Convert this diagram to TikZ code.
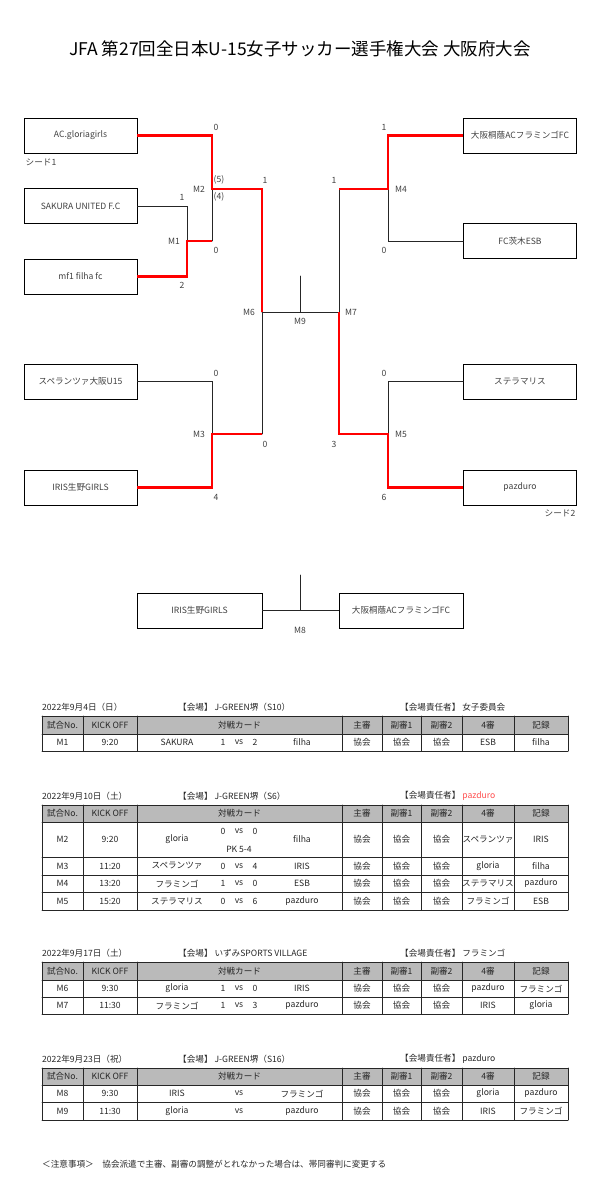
\documentclass[tikz,border=0pt]{standalone}
\usepackage{fontspec}
\setmainfont{Noto Sans CJK JP}
\usepackage{tikz}
\usepackage{xcolor}
\definecolor{alert}{HTML}{FF4D4D}

\begin{document}
\begin{tikzpicture}[x=1pt,y=-1pt,line cap=round,
  font=\fontsize{8.6}{10}\selectfont,
  team/.style={draw=black,line width=0.9pt,minimum width=113pt,minimum height=35pt,inner sep=0pt,text=black!75},
  lbl/.style={inner sep=0pt,text=black!75},
  win/.style={red,line width=2.8pt,line cap=butt},
  lose/.style={black!85,line width=0.9pt},
  cell/.style={inner sep=0pt,text=black!85},
  rule/.style={black!85,line width=0.9pt},
  hdr/.style={fill=black!27}]
\useasboundingbox (0,0) rectangle (600,1198);
\node[font=\fontsize{17.5}{20}\selectfont] (title) at (300,49) {JFA 第27回全日本U-15女子サッカー選手権大会 大阪府大会};
% teams
\node[team] (gloria) at (80.5,135.5) {AC.gloriagirls};
\node[team] (sakura) at (80.5,206) {SAKURA UNITED F.C};
\node[team] (filha) at (80.5,276.5) {mf1 filha fc};
\node[team] (speranza) at (80.5,381.5) {スペランツァ大阪U15};
\node[team] (iris) at (80.5,487.5) {IRIS生野GIRLS};
\node[team] (flamingo) at (520,135.5) {大阪桐蔭ACフラミンゴFC};
\node[team] (esb) at (520,241) {FC茨木ESB};
\node[team] (stella) at (520,381.5) {ステラマリス};
\node[team] (pazduro) at (520,487.5) {pazduro};
\node[team,minimum width=125pt] (irisF) at (199.5,610.5) {IRIS生野GIRLS};
\node[team,minimum width=124pt] (flamingoF) at (401,610.5) {大阪桐蔭ACフラミンゴFC};
% junctions
\coordinate (m1) at (187,241);
\coordinate (m2) at (212,189);
\coordinate (m3) at (212,434);
\coordinate (m6) at (262,312);
\coordinate (m4) at (388,189);
\coordinate (m5) at (388,434);
\coordinate (m7) at (339,312);
\coordinate (m9) at (300,312);
\coordinate (m9top) at (300,276);
\coordinate (m8top) at (300,575);
\coordinate (m8) at (300,610.5);
% bracket lines
\draw[lose] (sakura.east) -| (m1);
\draw[lose] (m2) -- (m2 |- m1);
\draw[lose] (speranza.east) -| (m3);
\draw[lose] (m6) -- (m6 |- m3);
\draw[lose] (m6) -- (m7);
\draw[lose] (m9top) -- (m9);
\draw[lose] (esb.west) -| (m4);
\draw[lose] (stella.west) -| (m5);
\draw[lose] (m7) -- (m7 |- m4);
\draw[lose] (irisF) -- (flamingoF);
\draw[lose] (m8top) -- (m8);
\draw[win] (filha.east) -| (m1) -- (m2 |- m1);
\draw[win] (gloria.east) -| (m2) -- (m6 |- m2) -- (m6);
\draw[win] (iris.east) -| (m3) -- (m6 |- m3);
\draw[win] (flamingo.west) -| (m4) -- (m7 |- m4);
\draw[win] (pazduro.west) -| (m5) -- (m7 |- m5) -- (m7);
% scores and match labels
\node[lbl] (s2a) at (216,127) {0};
\node[lbl] (pk2a) at (219,180) {(5)};
\node[lbl] (pk2b) at (219,197) {(4)};
\node[lbl] (n2) at (199,189) {M2};
\node[lbl] (s6a) at (265,180) {1};
\node[lbl] (s1a) at (182,197) {1};
\node[lbl] (n1) at (174,241) {M1};
\node[lbl] (s2b) at (216,250) {0};
\node[lbl] (s1b) at (182,285) {2};
\node[lbl] (seed1) at (41,162) {シード1};
\node[lbl] (s4a) at (384,127) {1};
\node[lbl] (s7a) at (334,180) {1};
\node[lbl] (n4) at (401,189) {M4};
\node[lbl] (s4b) at (384,250) {0};
\node[lbl] (s3a) at (216,373) {0};
\node[lbl] (n3) at (199,434) {M3};
\node[lbl] (s6b) at (265,444) {0};
\node[lbl] (s3b) at (216,497) {4};
\node[lbl] (n6) at (249,312) {M6};
\node[lbl] (s5a) at (384,373) {0};
\node[lbl] (s7b) at (334,444) {3};
\node[lbl] (n5) at (401,434) {M5};
\node[lbl] (s5b) at (384,497) {6};
\node[lbl] (n7) at (351,312) {M7};
\node[lbl] (seed2) at (560,513) {シード2};
\node[lbl] (n9) at (300,321) {M9};
\node[lbl] (n8) at (300,630) {M8};
% schedule tables
\fill[hdr] (42,716) rectangle (568,734);
\fill[hdr] (42,805) rectangle (568,822);
\fill[hdr] (42,962) rectangle (568,980);
\fill[hdr] (42,1068) rectangle (568,1085);
\foreach \h in {716,734,751} \draw[rule] (42,\h) -- (568,\h);
\foreach \x in {42,83,137,342,382,421,462,514,568} \draw[rule] (\x,716) -- (\x,751);
\foreach \h in {805,822,857,875,892,910} \draw[rule] (42,\h) -- (568,\h);
\foreach \x in {42,83,137,342,382,421,462,514,568} \draw[rule] (\x,805) -- (\x,910);
\foreach \h in {962,980,997,1014} \draw[rule] (42,\h) -- (568,\h);
\foreach \x in {42,83,137,342,382,421,462,514,568} \draw[rule] (\x,962) -- (\x,1014);
\foreach \h in {1068,1085,1102,1120} \draw[rule] (42,\h) -- (568,\h);
\foreach \x in {42,83,137,342,382,421,462,514,568} \draw[rule] (\x,1068) -- (\x,1120);
\foreach \y/\n in {725/a,813.5/b,971/c,1076.5/d}
  \foreach \x/\t [count=\i] in {62.5/試合No.,110/KICK OFF,239.5/対戦カード,362/主審,401.5/副審1,441.5/副審2,488/4審,541/記録}
    \node[cell] (h\n\i) at (\x,\y) {\t};
\node[cell,anchor=west] (date1) at (42,707) {2022年9月4日（日）};
\node[cell,anchor=west] (venue1) at (178,707) {【会場】 J-GREEN堺（S10）};
\node[cell,anchor=west] (chief1) at (400,707) {【会場責任者】 女子委員会};
\node[cell,anchor=west] (date2) at (42,796) {2022年9月10日（土）};
\node[cell,anchor=west] (venue2) at (178,796) {【会場】 J-GREEN堺（S6）};
\node[cell,anchor=west] (chief2) at (400,796) {【会場責任者】 \textcolor{alert}{pazduro}};
\node[cell,anchor=west] (date3) at (42,953) {2022年9月17日（土）};
\node[cell,anchor=west] (venue3) at (178,953) {【会場】 いずみSPORTS VILLAGE};
\node[cell,anchor=west] (chief3) at (400,953) {【会場責任者】 フラミンゴ};
\node[cell,anchor=west] (date4) at (42,1059) {2022年9月23日（祝）};
\node[cell,anchor=west] (venue4) at (178,1059) {【会場】 J-GREEN堺（S16）};
\node[cell,anchor=west] (chief4) at (400,1059) {【会場責任者】 pazduro};
\foreach \y/\no/\ko/\ta/\sa/\sb/\tb/\fo/\rec [count=\r] in {
  742.5/M1/9:20/SAKURA/1/2/filha/ESB/filha,
  866/M3/11:20/スペランツァ/0/4/IRIS/gloria/filha,
  883.5/M4/13:20/フラミンゴ/1/0/ESB/ステラマリス/pazduro,
  901/M5/15:20/ステラマリス/0/6/pazduro/フラミンゴ/ESB,
  988.5/M6/9:30/gloria/1/0/IRIS/pazduro/フラミンゴ,
  1005.5/M7/11:30/フラミンゴ/1/3/pazduro/IRIS/gloria,
  1093.5/M8/9:30/IRIS///フラミンゴ/gloria/pazduro,
  1111/M9/11:30/gloria///pazduro/IRIS/フラミンゴ}{
  \node[cell] (no\r) at (62.5,\y) {\no};
  \node[cell] (ko\r) at (110,\y) {\ko};
  \node[cell] (ta\r) at (177,\y) {\ta};
  \node[cell] (sa\r) at (223,\y) {\sa};
  \node[cell] (vs\r) at (239,\y) {vs};
  \node[cell] (sb\r) at (255,\y) {\sb};
  \node[cell] (tb\r) at (302,\y) {\tb};
  \foreach \x [count=\k] in {362,401.5,441.5} \node[cell] (ref\r-\k) at (\x,\y) {協会};
  \node[cell] (fo\r) at (488,\y) {\fo};
  \node[cell] (rec\r) at (541,\y) {\rec};
}
% M2 row with penalty shoot-out
\node[cell] (no0) at (62.5,839.5) {M2};
\node[cell] (ko0) at (110,839.5) {9:20};
\node[cell] (ta0) at (177,839.5) {gloria};
\node[cell] (sa0) at (223,831) {0};
\node[cell] (vs0) at (239,831) {vs};
\node[cell] (sb0) at (255,831) {0};
\node[cell] (pk0) at (239,849) {PK 5-4};
\node[cell] (tb0) at (302,839.5) {filha};
\foreach \x [count=\k] in {362,401.5,441.5} \node[cell] (ref0-\k) at (\x,839.5) {協会};
\node[cell] (fo0) at (488,839.5) {スペランツァ};
\node[cell] (rec0) at (541,839.5) {IRIS};
\node[cell,anchor=west] (note) at (42,1164) {＜注意事項＞　協会派遣で主審、副審の調整がとれなかった場合は、帯同審判に変更する};
\end{tikzpicture}
\end{document}
